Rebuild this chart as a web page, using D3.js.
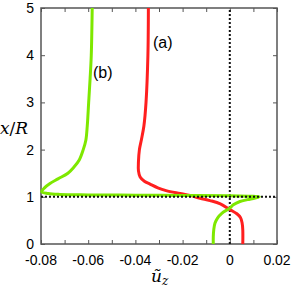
<!DOCTYPE html>
<html>
<head>
<meta charset="utf-8">
<script src="https://cdn.jsdelivr.net/npm/d3@7"></script>
<style>
  body { margin: 0; background: #fff; }
  svg { display: block; }
</style>
</head>
<body>
<svg id="chart" width="291" height="290"></svg>
<script>
// data: x/R vs u_z for two cases
const redY = [5, 4, 3, 2.5, 2.2, 2.0, 1.75, 1.55, 1.42, 1.33, 1.27, 1.19, 1.13, 1.07, 1.03, 0.97, 0.92, 0.85, 0.73, 0.64, 0.56, 0.45, 0.3, 0];
const redU = [-0.0345, -0.0347, -0.0355, -0.0364, -0.0375, -0.0383, -0.0387, -0.0387, -0.0380, -0.0362, -0.0338, -0.0305, -0.0270, -0.0211, -0.0169, -0.0126, -0.0084, -0.0040, 0, 0.0030, 0.0045, 0.0052, 0.0055, 0.0055];

const greenY = [5, 4, 3.5, 3, 2.5, 2.2, 2.0, 1.78, 1.62, 1.5, 1.38, 1.28, 1.19, 1.108, 1.07, 1.05, 1.04, 1.034, 1.028, 1.02, 1.012, 1.004, 0.975, 0.94, 0.90, 0.83, 0.76, 0.65, 0.55, 0.44, 0.3, 0.15, 0];
const greenU = [-0.0583, -0.0587, -0.0592, -0.0598, -0.0604, -0.0610, -0.0621, -0.0638, -0.0662, -0.0686, -0.0728, -0.0762, -0.0785, -0.0797, -0.0770, -0.0720, -0.0600, -0.0400, -0.0200, 0.000, 0.008, 0.0125, 0.0107, 0.0075, 0.0043, 0.0015, 0.000, -0.0034, -0.0052, -0.0063, -0.0068, -0.0070, -0.0070];

const xTicks = [-0.08, -0.06, -0.04, -0.02, 0, 0.02];
const xMinor = [-0.08, -0.07, -0.06, -0.05, -0.04, -0.03, -0.02, -0.01, 0, 0.01, 0.02];
const yTicks = [0, 1, 2, 3, 4, 5];

const svg = d3.select("#chart");
const m = { left: 41, right: 277, top: 8, bottom: 244 };

const x = d3.scaleLinear().domain([-0.08, 0.02]).range([m.left, m.right]);
const y = d3.scaleLinear().domain([0, 5]).range([m.bottom, m.top]);

// frame
svg.append("rect")
    .attr("x", m.left).attr("y", m.top)
    .attr("width", m.right - m.left).attr("height", m.bottom - m.top)
    .attr("fill", "none").attr("stroke", "#555").attr("stroke-width", 1.5);

// inward ticks on all four sides
const tickLen = 4;
const fmtX = d => d === 0 ? "0" : d3.format(".2f")(d).replace("\u2212", "-");

const xb = svg.append("g").attr("transform", `translate(0,${m.bottom})`)
    .call(d3.axisBottom(x).tickValues(xMinor).tickSizeInner(-tickLen).tickSizeOuter(0).tickFormat(""));
const xt = svg.append("g").attr("transform", `translate(0,${m.top})`)
    .call(d3.axisTop(x).tickValues(xMinor).tickSizeInner(-tickLen).tickSizeOuter(0).tickFormat(""));
const yl = svg.append("g").attr("transform", `translate(${m.left},0)`)
    .call(d3.axisLeft(y).tickValues(yTicks).tickSizeInner(-tickLen).tickSizeOuter(0).tickFormat(""));
const yr = svg.append("g").attr("transform", `translate(${m.right},0)`)
    .call(d3.axisRight(y).tickValues(yTicks).tickSizeInner(-tickLen).tickSizeOuter(0).tickFormat(""));
[xb, xt, yl, yr].forEach(g => {
    g.select(".domain").remove();
    g.selectAll("line").attr("stroke", "#555").attr("stroke-width", 1);
});

// tick labels
svg.append("g").selectAll("text").data(xTicks).join("text")
    .attr("x", d => x(d)).attr("y", 265)
    .attr("text-anchor", "middle")
    .attr("font-family", "Liberation Sans, Arial, sans-serif")
    .attr("font-size", 14)
    .text(fmtX);

svg.append("g").selectAll("text").data(yTicks).join("text")
    .attr("x", 34).attr("y", d => y(d) + 5)
    .attr("text-anchor", "end")
    .attr("font-family", "Liberation Sans, Arial, sans-serif")
    .attr("font-size", 14)
    .text(d => d);

// axis titles
const yt = svg.append("text")
    .attr("x", 0).attr("y", 134)
    .attr("font-family", "DejaVu Serif, Liberation Serif, serif")
    .attr("font-style", "italic")
    .attr("font-size", 17);
yt.append("tspan").text("x");
yt.append("tspan").attr("font-style", "normal").text("/");
yt.append("tspan").text("R");

const xtl = svg.append("text")
    .attr("x", 151).attr("y", 282)
    .attr("font-family", "DejaVu Serif, Liberation Serif, serif")
    .attr("font-style", "italic")
    .attr("font-size", 17);
xtl.append("tspan").text("\u0169");
xtl.append("tspan").attr("font-size", 12).attr("dy", 3).text("z");

// dotted reference lines
svg.append("line")
    .attr("x1", x(0)).attr("x2", x(0)).attr("y1", y(0)).attr("y2", y(5))
    .attr("stroke", "#111").attr("stroke-width", 2).attr("stroke-dasharray", "2,2");

// curves
const line = d3.line()
    .x(d => x(d[0])).y(d => y(d[1]))
    .curve(d3.curveCatmullRom.alpha(0.5));

svg.append("path")
    .datum(redU.map((u, i) => [u, redY[i]]))
    .attr("d", line)
    .attr("fill", "none").attr("stroke", "#ff1f1f").attr("stroke-width", 3);

svg.append("path")
    .datum(greenU.map((u, i) => [u, greenY[i]]))
    .attr("d", line)
    .attr("fill", "none").attr("stroke", "#7ee800").attr("stroke-width", 3);

svg.append("line")
    .attr("x1", x(-0.08)).attr("x2", x(0.02)).attr("y1", y(1)).attr("y2", y(1))
    .attr("stroke", "#111").attr("stroke-width", 2).attr("stroke-dasharray", "2,2");

// labels
svg.append("text").attr("x", 153).attr("y", 48)
    .attr("font-family", "Liberation Sans, Arial, sans-serif").attr("font-size", 16)
    .text("(a)");
svg.append("text").attr("x", 93).attr("y", 78)
    .attr("font-family", "Liberation Sans, Arial, sans-serif").attr("font-size", 16)
    .text("(b)");
</script>
</body>
</html>
